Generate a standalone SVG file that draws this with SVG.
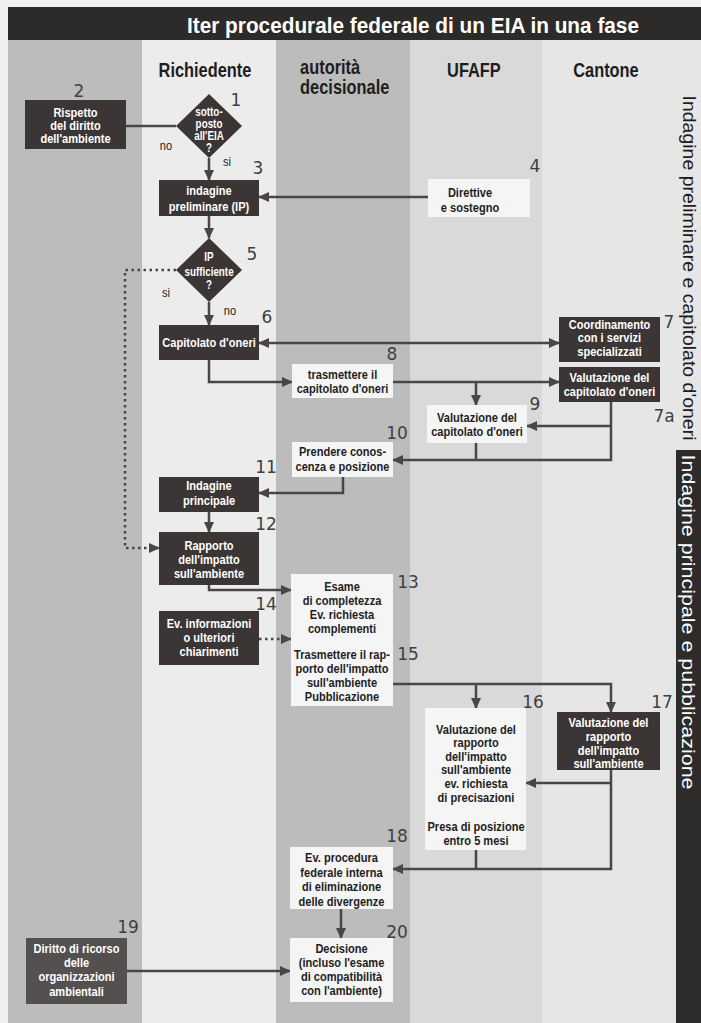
<svg xmlns="http://www.w3.org/2000/svg" width="701" height="1023" viewBox="0 0 701 1023">
<style>
.t{font-family:"Liberation Sans",Arial,sans-serif;font-weight:bold;font-size:13.5px;text-anchor:middle}
.w{fill:#ffffff}
.k{fill:#1e1e1e}
.r{font-weight:normal}
.h{font-family:"Liberation Sans",Arial,sans-serif;font-weight:bold;font-size:20px;fill:#1e1e1e}
.n{font-family:"DejaVu Sans","Open Sans",sans-serif;font-size:17px;fill:#3f3f3f;text-anchor:middle}
.dk{fill:#3b3535}
.lt{fill:#f5f5f5}
.c{fill:none;stroke:#4b4545;stroke-width:2.5}
.a{marker-end:url(#ah)}
.d{stroke-dasharray:2.5 3.5}
</style>
<defs>
<marker id="ah" markerUnits="userSpaceOnUse" markerWidth="11" markerHeight="10" refX="10" refY="5" orient="auto-start-reverse">
<path d="M0,0 L11,5 L0,10 z" fill="#4b4545"/>
</marker>
</defs>
<!-- background -->
<rect x="0" y="0" width="701" height="1023" fill="#f0f0f0"/>
<rect x="8" y="40" width="134" height="983" fill="#bcbcbc"/>
<rect x="142" y="40" width="134" height="983" fill="#ececec"/>
<rect x="276" y="40" width="134" height="983" fill="#bcbcbc"/>
<rect x="410" y="40" width="132" height="983" fill="#d9d9d9"/>
<rect x="542" y="40" width="159" height="983" fill="#e6e6e6"/>
<rect x="8" y="7" width="693" height="33" fill="#2d2a2a"/>
<text x="413" y="33" class="t w" style="font-size:22px" textLength="452" lengthAdjust="spacingAndGlyphs">Iter procedurale federale di un EIA in una fase</text>
<rect x="676" y="450" width="25" height="573" fill="#2e2b2b"/>
<text transform="translate(683,268) rotate(90)" class="t k r" style="font-size:19px" textLength="345" lengthAdjust="spacingAndGlyphs">Indagine preliminare e capitolato d'oneri</text>
<text transform="translate(682,622) rotate(90)" class="t w r" style="font-size:19px" textLength="335" lengthAdjust="spacingAndGlyphs">Indagine principale e pubblicazione</text>
<!-- headers -->
<g transform="scale(.82,1)">
<text x="250" y="77" class="h" text-anchor="middle">Richiedente</text>
<text x="366" y="74" class="h">autorità</text>
<text x="366" y="94" class="h">decisionale</text>
<text x="578" y="77" class="h" text-anchor="middle">UFAFP</text>
<text x="739" y="77" class="h" text-anchor="middle">Cantone</text>
</g>
<!-- connectors -->
<g id="connectors">
<path class="c" d="M176,126 H126"/>
<path class="c a" d="M209,158 V180"/>
<path class="c a" d="M428,197 H259"/>
<path class="c a" d="M209,216 V238"/>
<path class="c a d" d="M176,270 H125 V548 H159"/>
<path class="c a" d="M209,302 V325"/>
<path class="c a" style="marker-start:url(#ah)" d="M259,343 H559"/>
<path class="c a" d="M209,360 V382 H292"/>
<path class="c a" d="M393,382 H559"/>
<path class="c a" d="M476,382 V405"/>
<path class="c a" d="M611,402 V460 H393"/>
<path class="c a" d="M611,426 H527"/>
<path class="c" d="M476,443 V460"/>
<path class="c a" d="M343,477 V493 H259"/>
<path class="c a" d="M209,512 V532"/>
<path class="c a" d="M209,585 V590 H291"/>
<path class="c a d" d="M259,639 H291"/>
<path class="c a" d="M393,684 H611 V712"/>
<path class="c a" d="M476,684 V708"/>
<path class="c a" d="M611,770 V869 H393"/>
<path class="c a" d="M611,783 H526"/>
<path class="c" d="M476,850 V869"/>
<path class="c a" d="M341,909 V938"/>
<path class="c a" d="M127,971 H290"/>
<text class="t k r" transform="translate(166,0) scale(.82,1)"><tspan x="0" y="150">no</tspan></text>
<text class="t k r" transform="translate(227,0) scale(.82,1)"><tspan x="0" y="166">si</tspan></text>
<text class="t k r" transform="translate(166,0) scale(.82,1)"><tspan x="0" y="297">si</tspan></text>
<text class="t k r" transform="translate(230,0) scale(.82,1)"><tspan x="0" y="315">no</tspan></text>
</g>
<!-- nodes -->
<g id="n1">
<polygon class="dk" points="209,94 242,126 209,158 176,126"/>
<text class="t w" style="font-size:12px" transform="translate(209,0) scale(.82,1)"><tspan x="0" y="116">sotto-</tspan><tspan x="0" y="128">posto</tspan><tspan x="0" y="140">all'EIA</tspan><tspan x="0" y="152">?</tspan></text>
<text x="236" y="106" class="n">1</text>
</g>
<g id="n2">
<rect class="dk" x="25" y="100" width="101" height="49"/>
<text class="t w" transform="translate(75.5,0) scale(.82,1)"><tspan x="0" y="117">Rispetto</tspan><tspan x="0" y="130">del diritto</tspan><tspan x="0" y="143">dell'ambiente</tspan></text>
<text x="79" y="97" class="n">2</text>
</g>
<g id="n3">
<rect class="dk" x="159" y="180" width="100" height="36"/>
<text class="t w" transform="translate(209,0) scale(.82,1)"><tspan x="0" y="195">indagine</tspan><tspan x="0" y="211">preliminare (IP)</tspan></text>
<text x="258" y="174" class="n">3</text>
</g>
<g id="n4">
<rect class="lt" x="428" y="179" width="102" height="38"/>
<text class="t k" transform="translate(470,0) scale(.82,1)"><tspan x="0" y="197">Direttive</tspan><tspan x="0" y="212">e sostegno</tspan></text>
<text x="535" y="172" class="n">4</text>
</g>
<g id="n5">
<polygon class="dk" points="209,238 242,270 209,302 176,270"/>
<text class="t w" style="font-size:12px" transform="translate(209,0) scale(.82,1)"><tspan x="0" y="261">IP</tspan><tspan x="0" y="276">sufficiente</tspan><tspan x="0" y="289">?</tspan></text>
<text x="252" y="260" class="n">5</text>
</g>
<g id="n6">
<rect class="dk" x="159" y="325" width="100" height="35"/>
<text class="t w" transform="translate(209,0) scale(.82,1)"><tspan x="0" y="347">Capitolato d'oneri</tspan></text>
<text x="267" y="323" class="n">6</text>
</g>
<g id="n7">
<rect class="dk" x="559" y="317" width="101" height="45"/>
<text class="t w" transform="translate(609.5,0) scale(.82,1)"><tspan x="0" y="329">Coordinamento</tspan><tspan x="0" y="342">con i servizi</tspan><tspan x="0" y="356">specializzati</tspan></text>
<text x="669" y="328" class="n">7</text>
</g>
<g id="n7a">
<rect class="dk" x="559" y="367" width="101" height="35"/>
<text class="t w" transform="translate(609.5,0) scale(.82,1)"><tspan x="0" y="382">Valutazione del</tspan><tspan x="0" y="396">capitolato d'oneri</tspan></text>
<text x="664" y="422" class="n">7a</text>
</g>
<g id="n8">
<rect class="lt" x="292" y="364" width="101" height="34"/>
<text class="t k" transform="translate(342.5,0) scale(.82,1)"><tspan x="0" y="379">trasmettere il</tspan><tspan x="0" y="393">capitolato d'oneri</tspan></text>
<text x="392" y="360" class="n">8</text>
</g>
<g id="n9">
<rect class="lt" x="427" y="405" width="100" height="38"/>
<text class="t k" transform="translate(477,0) scale(.82,1)"><tspan x="0" y="422">Valutazione del</tspan><tspan x="0" y="436">capitolato d'oneri</tspan></text>
<text x="535" y="410" class="n">9</text>
</g>
<g id="n10">
<rect class="lt" x="292" y="442" width="101" height="35"/>
<text class="t k" transform="translate(342.5,0) scale(.82,1)"><tspan x="0" y="456">Prendere conos-</tspan><tspan x="0" y="471">cenza e posizione</tspan></text>
<text x="397" y="439" class="n">10</text>
</g>
<g id="n11">
<rect class="dk" x="159" y="477" width="100" height="35"/>
<text class="t w" transform="translate(209,0) scale(.82,1)"><tspan x="0" y="490">Indagine</tspan><tspan x="0" y="505">principale</tspan></text>
<text x="266" y="473" class="n">11</text>
</g>
<g id="n12">
<rect class="dk" x="159" y="532" width="100" height="53"/>
<text class="t w" transform="translate(209,0) scale(.82,1)"><tspan x="0" y="550">Rapporto</tspan><tspan x="0" y="564">dell'impatto</tspan><tspan x="0" y="578">sull'ambiente</tspan></text>
<text x="266" y="530" class="n">12</text>
</g>
<g id="n13">
<rect class="lt" x="291" y="574" width="102" height="68"/>
<text class="t k" transform="translate(342,0) scale(.82,1)"><tspan x="0" y="591">Esame</tspan><tspan x="0" y="605">di completezza</tspan><tspan x="0" y="619">Ev. richiesta</tspan><tspan x="0" y="633">complementi</tspan></text>
<text x="408" y="588" class="n">13</text>
</g>
<g id="n15">
<rect class="lt" x="291" y="641" width="102" height="65"/>
<text class="t k" transform="translate(342,0) scale(.82,1)"><tspan x="0" y="659">Trasmettere il rap-</tspan><tspan x="0" y="673">porto dell'impatto</tspan><tspan x="0" y="687">sull'ambiente</tspan><tspan x="0" y="701">Pubblicazione</tspan></text>
<text x="408" y="660" class="n">15</text>
</g>
<g id="n14">
<rect class="dk" x="159" y="611" width="100" height="54"/>
<text class="t w" transform="translate(209,0) scale(.82,1)"><tspan x="0" y="628">Ev. informazioni</tspan><tspan x="0" y="642">o ulteriori</tspan><tspan x="0" y="656">chiarimenti</tspan></text>
<text x="266" y="610" class="n">14</text>
</g>
<g id="n16">
<rect class="lt" x="425" y="708" width="101" height="142"/>
<text class="t k" transform="translate(476,0) scale(.82,1)"><tspan x="0" y="734">Valutazione del</tspan><tspan x="0" y="747">rapporto</tspan><tspan x="0" y="761">dell'impatto</tspan><tspan x="0" y="774">sull'ambiente</tspan><tspan x="0" y="788">ev. richiesta</tspan><tspan x="0" y="802">di precisazioni</tspan><tspan x="0" y="831">Presa di posizione</tspan><tspan x="0" y="845">entro 5 mesi</tspan></text>
<text x="533" y="708" class="n">16</text>
</g>
<g id="n17">
<rect class="dk" x="557" y="712" width="103" height="58"/>
<text class="t w" transform="translate(608.5,0) scale(.82,1)"><tspan x="0" y="727">Valutazione del</tspan><tspan x="0" y="741">rapporto</tspan><tspan x="0" y="755">dell'impatto</tspan><tspan x="0" y="768">sull'ambiente</tspan></text>
<text x="662" y="708" class="n">17</text>
</g>
<g id="n18">
<rect class="lt" x="290" y="847" width="103" height="62"/>
<text class="t k" transform="translate(341.5,0) scale(.82,1)"><tspan x="0" y="862">Ev. procedura</tspan><tspan x="0" y="877">federale interna</tspan><tspan x="0" y="891">di eliminazione</tspan><tspan x="0" y="906">delle divergenze</tspan></text>
<text x="397" y="842" class="n">18</text>
</g>
<g id="n19">
<rect x="26" y="938" width="101" height="66" fill="#545050"/>
<text class="t w" transform="translate(76.5,0) scale(.82,1)"><tspan x="0" y="953">Diritto di ricorso</tspan><tspan x="0" y="967">delle</tspan><tspan x="0" y="981">organizzazioni</tspan><tspan x="0" y="996">ambientali</tspan></text>
<text x="128" y="933" class="n">19</text>
</g>
<g id="n20">
<rect class="lt" x="290" y="938" width="103" height="64"/>
<text class="t k" transform="translate(341.5,0) scale(.82,1)"><tspan x="0" y="953">Decisione</tspan><tspan x="0" y="967">(incluso l'esame</tspan><tspan x="0" y="981">di compatibilità</tspan><tspan x="0" y="995">con l'ambiente)</tspan></text>
<text x="397" y="938" class="n">20</text>
</g>
</svg>
